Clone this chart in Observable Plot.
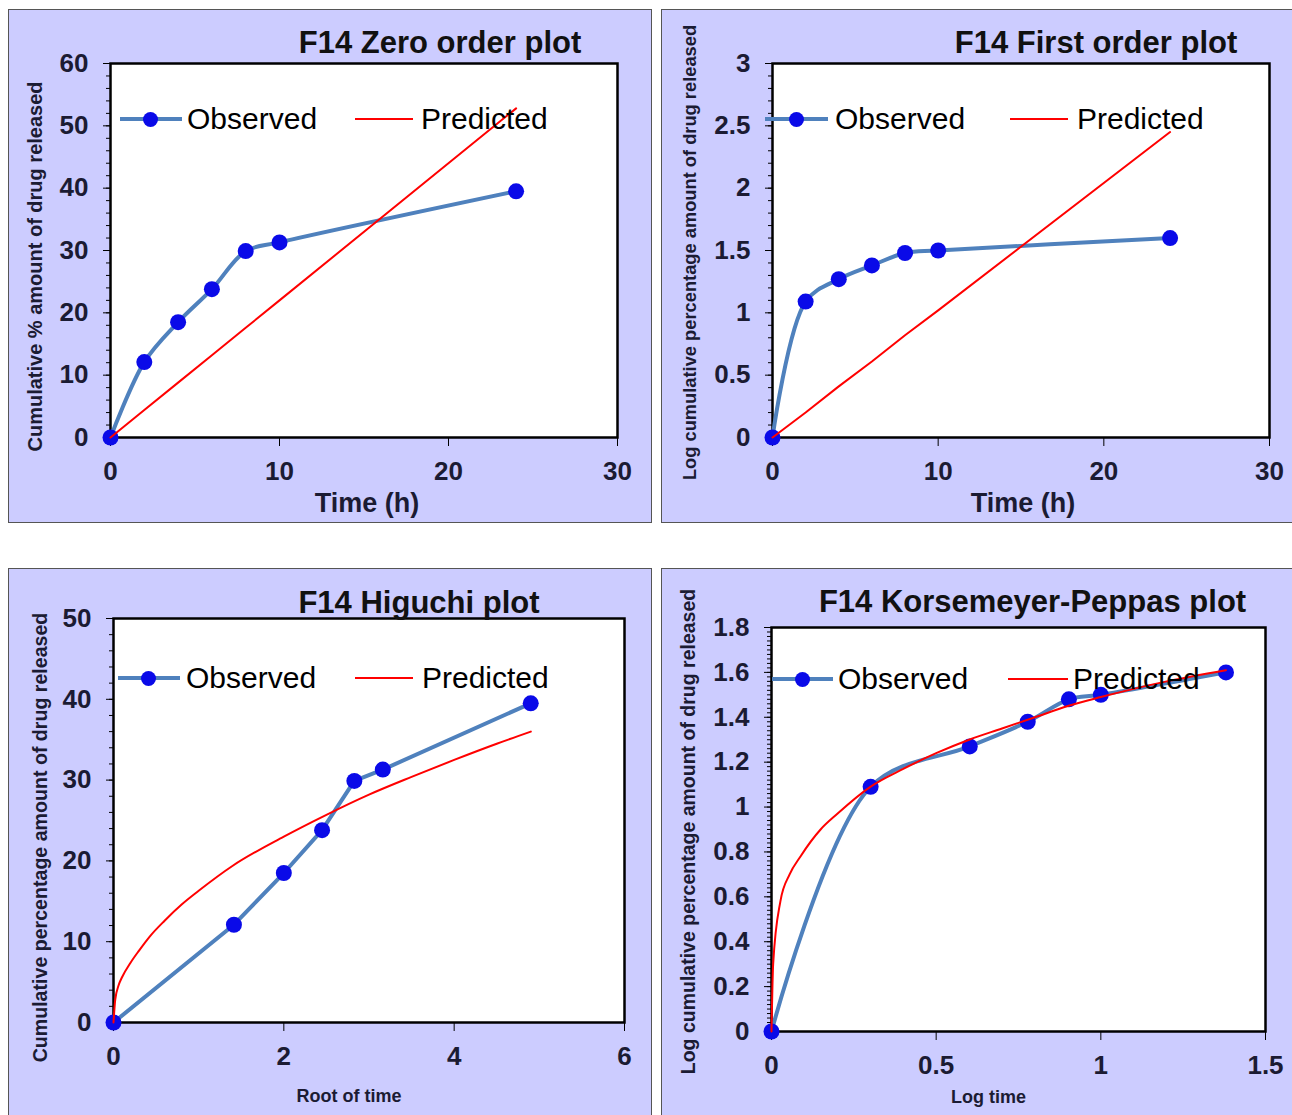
<!DOCTYPE html>
<html><head><meta charset="utf-8">
<script src="https://cdn.jsdelivr.net/npm/d3@7"></script>
<script src="https://cdn.jsdelivr.net/npm/@observablehq/plot@0.6"></script>
<style>
body{margin:0;background:#fff;}
#page{position:relative;width:1292px;height:1115px;overflow:hidden;font-family:"Liberation Sans",Arial,sans-serif;}
.box{position:absolute;background:#ccccff;border:1px solid #555;box-sizing:border-box;}
.chart{position:absolute;}
.chart svg{max-width:none;}
.lg{position:absolute;}
.lgtext{position:absolute;font-size:30px;line-height:36px;color:#000;white-space:nowrap;}
</style></head><body><div id="page"></div>
<script>
// ---- data ----
const timeH = [0, 2, 4, 6, 8, 10, 24];
const zeroObserved = [0, 12.1, 18.5, 23.8, 29.9, 31.3, 39.5];
const zeroPredicted = [0, 4.4, 8.8, 13.2, 17.6, 22.0, 52.8];
const firstObserved = [0, 1.09, 1.27, 1.38, 1.48, 1.50, 1.60];
const firstPredicted = [0, 0.20, 0.41, 0.61, 0.82, 1.02, 2.45];
const rootTime = [0, 1.414, 2, 2.449, 2.828, 3.162, 4.899];
const higuchiObserved = [0, 12.1, 18.5, 23.8, 29.9, 31.3, 39.5];
const higuchiPredX = [0, 0.02, 0.06, 0.1, 0.2, 0.3, 0.43, 0.6, 0.8, 1.0, 1.4, 2.0, 2.5, 3.0, 3.5, 4.0, 4.5, 4.9];
const higuchiPredY = [0, 2.8, 4.6, 5.6, 7.4, 8.9, 10.7, 12.6, 14.6, 16.3, 19.4, 23.0, 25.7, 28.2, 30.4, 32.5, 34.5, 36.0];
const logTime = [0, 0.301, 0.602, 0.778, 0.903, 1.0, 1.380];
const kpObserved = [0, 1.09, 1.27, 1.38, 1.48, 1.50, 1.60];
const kpPredX = [0, 0.005, 0.027, 0.055, 0.088, 0.149, 0.2, 0.3, 0.4, 0.5, 0.6, 0.7, 0.8, 0.9, 1.0, 1.2, 1.38];
const kpPredY = [0, 0.30, 0.58, 0.70, 0.78, 0.90, 0.97, 1.09, 1.17, 1.24, 1.30, 1.35, 1.40, 1.45, 1.49, 1.56, 1.61];

const zeroXTicks = [0, 10, 20, 30];
const zeroYTicks = [0, 10, 20, 30, 40, 50, 60];
const firstXTicks = [0, 10, 20, 30];
const firstYTicks = [0, 0.5, 1, 1.5, 2, 2.5, 3];
const higuchiXTicks = [0, 2, 4, 6];
const higuchiYTicks = [0, 10, 20, 30, 40, 50];
const kpXTicks = [0, 0.5, 1, 1.5];
const kpYTicks = [0, 0.2, 0.4, 0.6, 0.8, 1, 1.2, 1.4, 1.6, 1.8];

const legendLabels = ["Observed", "Predicted"];

const page = document.getElementById("page");
const zip = (xs, ys) => xs.map((x, i) => ({x, y: ys[i]}));
const fmt = d => String(d);

function panel(o) {
  const box = document.createElement("div");
  box.className = "box";
  Object.assign(box.style, {left: o.box[0] + "px", top: o.box[1] + "px", width: o.box[2] + "px", height: o.box[3] + "px"});
  page.appendChild(box);

  const obs = zip(o.obsX, o.obsY);
  const pred = zip(o.predX, o.predY);
  const tickColor = "#1b1b33";
  const chart = Plot.plot({
    width: o.box[2], height: o.box[3],
    marginLeft: o.m[0], marginTop: o.m[1], marginRight: o.m[2], marginBottom: o.m[3],
    style: {background: "transparent", overflow: "visible", fontFamily: "'Liberation Sans', Arial, sans-serif", color: tickColor},
    x: {domain: o.xDomain},
    y: {domain: o.yDomain},
    marks: [
      Plot.frame({fill: "white"}),
      Plot.axisY(o.yMinor, {tickSize: 4, tickFormat: () => "", label: null, stroke: "black"}),
      Plot.axisY(o.yTicks, {tickSize: 7, tickPadding: 15, tickFormat: fmt, fontSize: 26, fontWeight: "bold", label: null, stroke: "black", fill: tickColor}),
      Plot.axisX(o.xTicks, {tickSize: 9, tickPadding: 15, tickFormat: fmt, fontSize: 26, fontWeight: "bold", label: null, stroke: "black", fill: tickColor}),
      Plot.frame({stroke: "black", strokeWidth: 2.5}),
      Plot.line(obs, {x: "x", y: "y", stroke: "#4f81bd", strokeWidth: 4, curve: o.obsCurve}),
      Plot.dot(obs, {x: "x", y: "y", r: 8, fill: "#0a0ae8", stroke: "none"}),
      Plot.line(pred, {x: "x", y: "y", stroke: "#ff0000", strokeWidth: 2, curve: o.predCurve}),
      Plot.text([o.title], {text: d => d, frameAnchor: "top", textAnchor: "middle", dx: o.titleD[0], dy: o.titleD[1], lineAnchor: "bottom", fontSize: 31, fontWeight: "bold", fill: "#111"}),
      Plot.text([o.yLabel], {text: d => d, frameAnchor: "left", textAnchor: "middle", rotate: -90, dx: o.yLabelD[0], dy: o.yLabelD[1], lineAnchor: "middle", fontSize: o.yLabelSize, fontWeight: "bold", fill: "#1b1b33"}),
      Plot.text([o.xLabel], {text: d => d, frameAnchor: "bottom", textAnchor: "middle", dx: o.xLabelD[0], dy: o.xLabelD[1], lineAnchor: "middle", fontSize: o.xLabelSize, fontWeight: "bold", fill: "#1b1b33"})
    ]
  });
  const wrap = document.createElement("div");
  wrap.className = "chart";
  Object.assign(wrap.style, {left: o.box[0] + "px", top: o.box[1] + "px"});
  wrap.appendChild(chart);
  page.appendChild(wrap);

  // legend overlay
  const L = o.legend; // [y, blueL, blueR, dotX, obsTextX, redL, redR, predTextX]
  const y = L[0];
  const add = (css, cls, txt) => {
    const d = document.createElement("div");
    d.className = cls;
    Object.assign(d.style, css);
    if (txt) d.textContent = txt;
    page.appendChild(d);
  };
  add({left: L[1] + "px", top: (y - 2) + "px", width: (L[2] - L[1]) + "px", height: "4px", background: "#4f81bd"}, "lg");
  add({left: (L[3] - 7.5) + "px", top: (y - 7.5) + "px", width: "15px", height: "15px", borderRadius: "50%", background: "#0a0ae8"}, "lg");
  add({left: L[4] + "px", top: (y - 18) + "px"}, "lgtext", legendLabels[0]);
  add({left: L[5] + "px", top: (y - 1) + "px", width: (L[6] - L[5]) + "px", height: "2px", background: "#ff0000"}, "lg");
  add({left: L[7] + "px", top: (y - 18) + "px"}, "lgtext", legendLabels[1]);
}

panel({
  box: [8, 9, 644, 514], m: [102, 54, 35, 86],
  xDomain: [0, 30], yDomain: [0, 60], xTicks: zeroXTicks, yTicks: zeroYTicks, yMinor: d3.range(0, 60.001, 2),
  obsX: timeH, obsY: zeroObserved, obsCurve: "catmull-rom",
  predX: timeH, predY: zeroPredicted, predCurve: "linear",
  title: "F14 Zero order plot", titleD: [76, -11],
  yLabel: "Cumulative % amount of drug released", yLabelD: [-75, 16], yLabelSize: 20,
  xLabel: "Time (h)", xLabelD: [3, 66], xLabelSize: 27,
  legend: [119, 120, 182, 150, 187, 355, 413, 421]
});
panel({
  box: [661, 9, 632, 514], m: [111, 54, 24, 86],
  xDomain: [0, 30], yDomain: [0, 3], xTicks: firstXTicks, yTicks: firstYTicks, yMinor: d3.range(0, 3.0001, 0.1),
  obsX: timeH, obsY: firstObserved, obsCurve: "catmull-rom",
  predX: timeH, predY: firstPredicted, predCurve: "linear",
  title: "F14 First order plot", titleD: [75, -11],
  yLabel: "Log cumulative percentage amount of drug released", yLabelD: [-82, 2], yLabelSize: 18.3,
  xLabel: "Time (h)", xLabelD: [2, 66], xLabelSize: 27,
  legend: [119, 765, 828, 796, 835, 1010, 1068, 1077]
});
panel({
  box: [8, 568, 644, 548], m: [105, 50, 28, 94],
  xDomain: [0, 6], yDomain: [0, 50], xTicks: higuchiXTicks, yTicks: higuchiYTicks, yMinor: d3.range(0, 50.001, 2),
  obsX: rootTime, obsY: higuchiObserved, obsCurve: "linear",
  predX: higuchiPredX, predY: higuchiPredY, predCurve: "monotone-x",
  title: "F14 Higuchi plot", titleD: [50, -6],
  yLabel: "Cumulative percentage amount of drug released", yLabelD: [-73, 17], yLabelSize: 19.6,
  xLabel: "Root of time", xLabelD: [-20, 74], xLabelSize: 18,
  legend: [678, 118, 180, 148, 186, 355, 413, 422]
});
panel({
  box: [661, 568, 632, 548], m: [110, 59, 28, 85],
  xDomain: [0, 1.5], yDomain: [0, 1.8], xTicks: kpXTicks, yTicks: kpYTicks, yMinor: d3.range(0, 1.8001, 0.02),
  obsX: logTime, obsY: kpObserved, obsCurve: "catmull-rom",
  predX: kpPredX, predY: kpPredY, predCurve: "monotone-x",
  title: "F14 Korsemeyer-Peppas plot", titleD: [14, -16],
  yLabel: "Log cumulative percentage amount of drug released", yLabelD: [-83, 2], yLabelSize: 19.5,
  xLabel: "Log time", xLabelD: [-30, 66], xLabelSize: 18,
  legend: [679, 772, 833, 802, 838, 1008, 1068, 1073]
});
</script></body></html>
